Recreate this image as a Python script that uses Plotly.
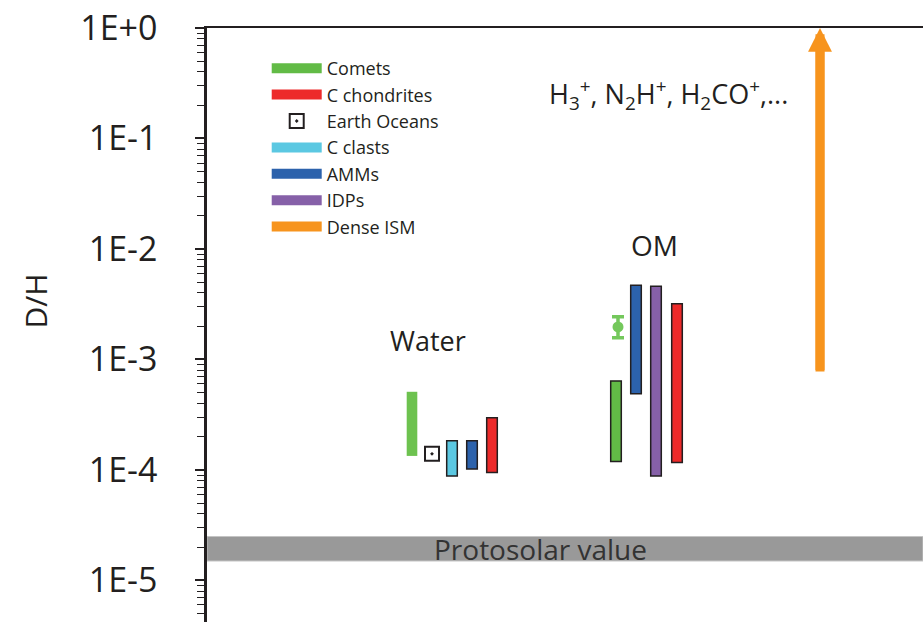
import math
import plotly.graph_objects as go

# ---------------- data ----------------
decade_vals = [1e0, 1e-1, 1e-2, 1e-3, 1e-4, 1e-5]
decade_labels = ["1E+0", "1E-1", "1E-2", "1E-3", "1E-4", "1E-5"]

# x slots: water group (1..5), organic matter (OM) group (11..14), dense ISM (21)
comets_x = [1, 11.2]
comets_lo = [1.34e-4, 1.19e-4]
comets_hi = [5.1e-4, 6.4e-4]

cchon_x = [5, 14.25]
cchon_lo = [9.5e-5, 1.17e-4]
cchon_hi = [2.97e-4, 3.2e-3]

earth_x = [2]
earth_dh = [1.4e-4]

cclast_x = [3]
cclast_lo = [8.8e-5]
cclast_hi = [1.84e-4]

amm_x = [4, 12.2]
amm_lo = [1.02e-4, 4.9e-4]
amm_hi = [1.84e-4, 4.7e-3]

idp_x = [13.2]
idp_lo = [8.8e-5]
idp_hi = [4.6e-3]

comet_pt_x = [11.3]
comet_pt = [1.97e-3]
comet_pt_hi = [2.44e-3]
comet_pt_lo = [1.57e-3]

ism_x = [21.4]
ism_lo = [7.8e-4]
ism_hi = [1.0]

protosolar_lo = 1.5e-5
protosolar_hi = 2.5e-5

series_names = ["Comets", "C chondrites", "Earth Oceans", "C clasts", "AMMs", "IDPs", "Dense ISM"]

# ---------------- style ----------------
C_GREEN = "#62BB46"
C_GREEN_LIGHT = "#6DC24F"
C_RED = "#ED2A2A"
C_CYAN = "#5BC8E2"
C_BLUE = "#2C62AC"
C_PURPLE = "#8660A8"
C_ORANGE = "#F7941D"
C_TEXT = "#231F20"
FONT = "Open Sans"
BAR_W = 0.53
X_RANGE = [-9.25, 26.55]

fig = go.Figure()

# protosolar band
fig.add_trace(go.Scatter(
    x=[X_RANGE[0], X_RANGE[1], X_RANGE[1], X_RANGE[0], X_RANGE[0]],
    y=[protosolar_lo, protosolar_lo, protosolar_hi, protosolar_hi, protosolar_lo],
    fill="toself", fillcolor="#999999", mode="lines",
    line=dict(color="#c4c4c4", width=1), showlegend=False, hoverinfo="skip"))


def add_bars(xs, lo, hi, color, line_widths):
    fig.add_trace(go.Bar(
        x=xs, base=lo, y=[h - l for l, h in zip(lo, hi)], width=BAR_W,
        marker=dict(color=color, line=dict(color=C_TEXT, width=line_widths)),
        showlegend=False))


add_bars(comets_x, comets_lo, comets_hi, [C_GREEN_LIGHT, C_GREEN], [0, 1.5])
add_bars(cchon_x, cchon_lo, cchon_hi, C_RED, 1.5)
add_bars(cclast_x, cclast_lo, cclast_hi, C_CYAN, 1.5)
add_bars(amm_x, amm_lo, amm_hi, C_BLUE, 1.5)
add_bars(idp_x, idp_lo, idp_hi, C_PURPLE, 1.5)

# comet point with error bar (OM)
fig.add_trace(go.Scatter(
    x=comet_pt_x, y=comet_pt, mode="markers",
    marker=dict(color="#74C85C", size=11),
    error_y=dict(type="data", symmetric=False,
                 array=[h - v for v, h in zip(comet_pt, comet_pt_hi)],
                 arrayminus=[v - l for v, l in zip(comet_pt, comet_pt_lo)],
                 color="#74C85C", thickness=3.5, width=6),
    showlegend=False))

# dense ISM shaft
fig.add_trace(go.Scatter(
    x=[ism_x[0], ism_x[0]], y=[ism_lo[0], ism_hi[0] * 0.75], mode="lines",
    line=dict(color=C_ORANGE, width=9), showlegend=False))

# legend entries
leg_colors = {"Comets": C_GREEN, "C chondrites": C_RED, "C clasts": C_CYAN,
              "AMMs": C_BLUE, "IDPs": C_PURPLE, "Dense ISM": C_ORANGE}
for name in series_names:
    if name == "Earth Oceans":
        fig.add_trace(go.Scatter(
            x=earth_x, y=earth_dh, mode="markers", name=name, legendgroup=name,
            marker=dict(symbol="square-open-dot", size=14, color=C_TEXT,
                        line=dict(width=2, color=C_TEXT))))
    else:
        fig.add_trace(go.Scatter(
            x=[None], y=[None], mode="lines", name=name, legendgroup=name,
            line=dict(color=leg_colors[name], width=13)))

minor_vals = [m * 10.0 ** e for e in range(-6, 1) for m in range(2, 10)]

fig.update_layout(
    width=923, height=622,
    margin=dict(l=207, r=0, t=28, b=0, autoexpand=False),
    paper_bgcolor="white", plot_bgcolor="white",
    font=dict(family=FONT, color=C_TEXT),
    barmode="overlay",
    showlegend=True,
    legend=dict(x=0.0834, y=0.963, xanchor="left", yanchor="top",
                font=dict(size=18, color=C_TEXT), bgcolor="rgba(0,0,0,0)",
                itemwidth=50, traceorder="grouped", tracegroupgap=0),
    xaxis=dict(range=X_RANGE, side="top", showline=True, linecolor=C_TEXT,
               linewidth=2, showticklabels=False, ticks="", showgrid=False,
               zeroline=False, automargin=False),
    yaxis=dict(type="log", range=[-5.376, 0], tickvals=decade_vals,
               ticktext=decade_labels, ticks="outside", ticklen=9,
               tickwidth=1.5, tickcolor=C_TEXT, showline=True,
               linecolor=C_TEXT, linewidth=2.5, showgrid=False,
               zeroline=False, ticklabelstandoff=31, automargin=False,
               tickfont=dict(size=34, family=FONT, color=C_TEXT),
               minor=dict(tickvals=minor_vals, ticks="outside", ticklen=7,
                          tickwidth=1.2, tickcolor=C_TEXT, showgrid=False)),
)

# arrow head for dense ISM
fig.add_annotation(x=ism_x[0], y=math.log10(ism_hi[0]), ax=ism_x[0],
                   ay=math.log10(ism_lo[0]), xref="x", yref="y",
                   axref="x", ayref="y", text="", showarrow=True,
                   arrowhead=2, arrowsize=0.53, arrowwidth=9,
                   arrowcolor=C_ORANGE, standoff=0)

# labels
fig.add_annotation(x=1.8, y=math.log10(1.5e-3), text="Water", showarrow=False,
                   font=dict(size=27, color=C_TEXT), xref="x", yref="y")
fig.add_annotation(x=13.1, y=math.log10(1.09e-2), text="OM", showarrow=False,
                   font=dict(size=28, color=C_TEXT), xref="x", yref="y")
fig.add_annotation(x=13.8, y=math.log10(0.248),
                   text="H<sub>3</sub><sup>+</sup>, N<sub>2</sub>H<sup>+</sup>, H<sub>2</sub>CO<sup>+</sup>,...",
                   showarrow=False, font=dict(size=27, color=C_TEXT),
                   xref="x", yref="y")
fig.add_annotation(x=7.4, y=math.log10(math.sqrt(protosolar_lo * protosolar_hi)),
                   text="Protosolar value", showarrow=False,
                   font=dict(size=28, color="#333333"), xref="x", yref="y")
fig.add_annotation(x=-0.24, y=0.54, xref="paper", yref="paper", text="D/H",
                   textangle=-90, showarrow=False, xanchor="center",
                   yanchor="middle", font=dict(size=30, color=C_TEXT))

fig.write_html("out.html", config={"displayModeBar": False},
               post_script="document.body.style.margin='0';")
